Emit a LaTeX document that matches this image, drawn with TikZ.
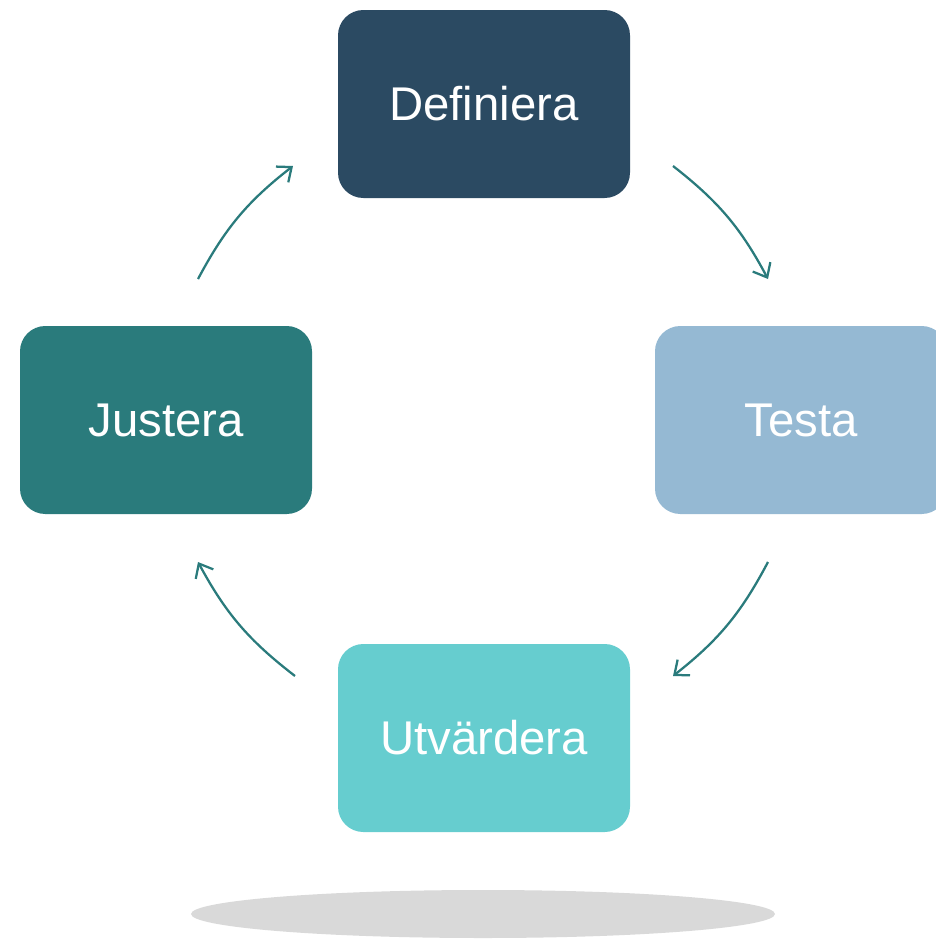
\documentclass[tikz,border=0pt]{standalone}
\usepackage{fontspec}
\setmainfont{Liberation Sans}
\usetikzlibrary{arrows.meta}

\definecolor{darkblue}{RGB}{43,74,98}
\definecolor{cycleteal}{RGB}{42,123,124}
\definecolor{lightblue}{RGB}{149,185,211}
\definecolor{aqua}{RGB}{102,205,207}
\definecolor{shadowgray}{RGB}{217,217,217}

\tikzset{every picture/.style={line width=0.75pt}}
\tikzset{
  stepbox/.style={rounded corners=19pt, minimum width=219pt, minimum height=141pt,
    inner sep=0pt, text=white, font=\fontsize{35.5}{42}\selectfont},
  cyclearrow/.style={draw=cycleteal, line width=1.7pt, -{Straight Barb[length=9pt,width=15pt,line width=1.7pt]}}
}

\begin{document}
\begin{tikzpicture}[x=0.75pt,y=0.75pt,yscale=-1,xscale=1]
\useasboundingbox (0,0) rectangle (936,940);

%Shape: Ellipse [id:shadow]
\fill [shadowgray] (483,914) ellipse (292 and 24);

% Text Node
\node [stepbox, fill=darkblue] (def) at (484,104) {Definiera};
% Text Node
\node [stepbox, fill=lightblue] (test) at (801,420) {Testa};
% Text Node
\node [stepbox, fill=aqua] (utv) at (484,738) {Utvärdera};
% Text Node
\node [stepbox, fill=cycleteal] (just) at (166,420) {Justera};

\coordinate (a1) at (673,166);
\coordinate (a2) at (768,279);
\coordinate (b1) at (768,562);
\coordinate (b2) at (673,676);
\coordinate (c1) at (295,676);
\coordinate (c2) at (198,562);
\coordinate (d1) at (198,279);
\coordinate (d2) at (293,166);

%Curve Lines
\draw [cyclearrow] (a1) to[bend right=12] (a2);
\draw [cyclearrow] (b1) to[bend right=12] (b2);
\draw [cyclearrow] (c1) to[bend right=12] (c2);
\draw [cyclearrow] (d1) to[bend right=12] (d2);

\end{tikzpicture}
\end{document}
